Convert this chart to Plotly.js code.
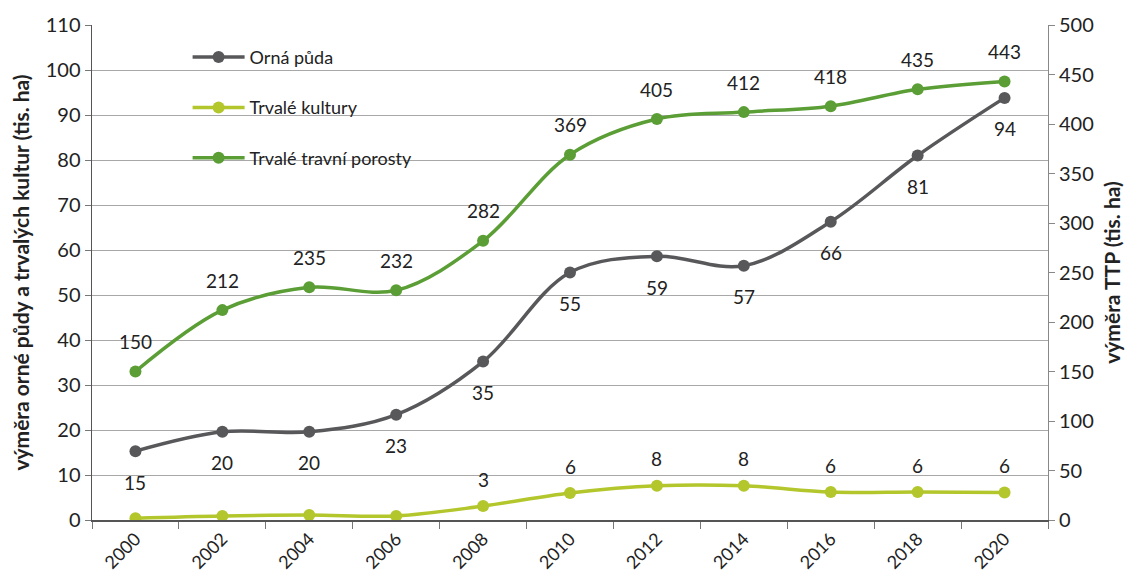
<!DOCTYPE html>
<html>
<head>
<meta charset="utf-8">
<script src="https://cdn.plot.ly/plotly-3.0.1.min.js"></script>
<style>html,body{margin:0;padding:0;background:#fff;}#chart{width:1134px;height:581px;}</style>
</head>
<body>
<div id="chart"></div>
<script>
const years = ['2000','2002','2004','2006','2008','2010','2012','2014','2016','2018','2020'];
const ornaPuda = [15.3, 19.6, 19.6, 23.4, 35.2, 55.0, 58.6, 56.5, 66.3, 81.0, 93.8];
const ornaLabels = ['15','20','20','23','35','55','59','57','66','81','94'];
const trvaleKultury = [0.4, 0.9, 1.1, 0.9, 3.1, 6.0, 7.6, 7.6, 6.2, 6.2, 6.1];
const kulturyLabels = ['','','','','3','6','8','8','6','6','6'];
const ttp = [150, 212, 235, 232, 282, 369, 405, 412, 418, 435, 443];
const ttpLabels = ['150','212','235','232','282','369','405','412','418','435','443'];

const names = ['Orná půda', 'Trvalé kultury', 'Trvalé travní porosty'];
const colors = ['#58585b', '#b3c62c', '#5a9e35'];
const FONT = 'Lato, "Open Sans", sans-serif';

function trace(y, i, axis) {
  return {
    x: years, y: y, name: names[i], type: 'scatter', mode: 'lines+markers',
    yaxis: axis, legendgroup: 'g' + i,
    line: {color: colors[i], width: 3.5, shape: 'spline', smoothing: 1},
    marker: {color: colors[i], size: 12},
    hoverinfo: 'x+y'
  };
}

const data = [
  trace(ornaPuda, 0, 'y'),
  trace(trvaleKultury, 1, 'y'),
  trace(ttp, 2, 'y2')
];

const annotations = [];
function addLabels(vals, labels, yref, shift) {
  vals.forEach((v, k) => {
    if (!labels[k]) return;
    annotations.push({
      x: k, y: v, xref: 'x', yref: yref, text: labels[k],
      showarrow: false, yshift: shift,
      font: {family: FONT, size: 19, color: '#222'}
    });
  });
}
addLabels(ornaPuda, ornaLabels, 'y', -31);
addLabels(trvaleKultury, kulturyLabels, 'y', 27);
addLabels(ttp, ttpLabels, 'y2', 30);

const layout = {
  width: 1134, height: 581,
  margin: {l: 92, r: 86, t: 25, b: 61},
  paper_bgcolor: '#ffffff', plot_bgcolor: '#ffffff',
  font: {family: FONT, size: 18, color: '#222'},
  showlegend: true,
  legend: {
    x: 0.1, y: 0.972, xanchor: 'left', yanchor: 'top',
    bgcolor: 'rgba(0,0,0,0)', borderwidth: 0,
    font: {family: FONT, size: 18, color: '#222'},
    traceorder: 'grouped', tracegroupgap: 24, itemwidth: 52
  },
  xaxis: {
    type: 'category', range: [-0.5, 10.5],
    showgrid: false, showline: true, linecolor: '#555', linewidth: 1.5,
    ticks: 'outside', tickson: 'boundaries', ticklen: 7, tickcolor: '#777',
    tickangle: -45, tickfont: {family: FONT, size: 18, color: '#222'},
    zeroline: false
  },
  yaxis: {
    range: [0, 110], dtick: 10, tick0: 0,
    showgrid: true, gridcolor: '#a8a8a8', gridwidth: 1,
    showline: true, linecolor: '#555', linewidth: 1.5,
    ticks: 'outside', ticklen: 6, tickcolor: '#777',
    tickfont: {family: FONT, size: 20, color: '#222'},
    zeroline: false,
    title: {text: 'výměra orné půdy a trvalých kultur (tis. ha)', standoff: 10,
            font: {family: FONT, size: 21, color: '#222', weight: 'bold'}}
  },
  yaxis2: {
    overlaying: 'y', side: 'right', range: [0, 500], dtick: 50, tick0: 0,
    showgrid: false, showline: true, linecolor: '#888', linewidth: 1,
    ticks: 'outside', ticklen: 6, tickcolor: '#888',
    tickfont: {family: FONT, size: 20, color: '#222'},
    zeroline: false,
    title: {text: 'výměra TTP (tis. ha)', standoff: 12,
            font: {family: FONT, size: 21, color: '#222', weight: 'bold'}}
  },
  shapes: [{
    type: 'rect', xref: 'paper', yref: 'paper', layer: 'below',
    x0: (165 - 92) / 956, x1: (452 - 92) / 956,
    y0: 1 - (182 - 25) / 495, y1: 1 - (32 - 25) / 495,
    fillcolor: '#ffffff', line: {width: 0}
  }],
  annotations: annotations
};

Plotly.newPlot('chart', data, layout, {displayModeBar: false, staticPlot: true});
</script>
</body>
</html>
